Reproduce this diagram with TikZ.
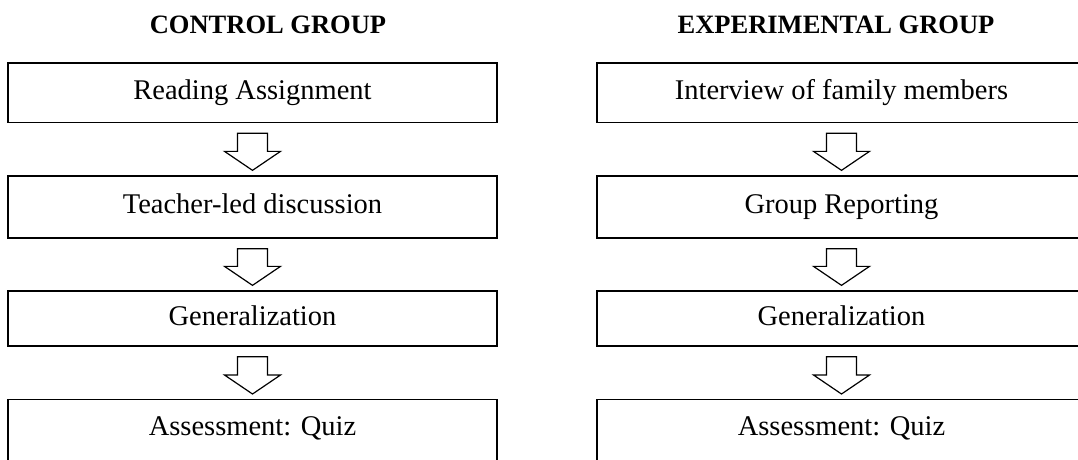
\documentclass[tikz,border=0pt]{standalone}
\usepackage{fontspec}
\setmainfont{Liberation Serif}
\usetikzlibrary{calc}
\newcommand{\blkarrow}[2]{%
  \draw[blk] let \p1=(#1.south), \p2=(#2.north) in
    (\x1-15pt,\y1-10pt) -- (\x1+15pt,\y1-10pt) -- (\x1+15pt,\y2+24pt) --
    (\x1+28pt,\y2+24pt) -- (\x1,\y2+5pt) -- (\x1-28pt,\y2+24pt) --
    (\x1-15pt,\y2+24pt) -- cycle;}
\begin{document}
\begin{tikzpicture}[x=1pt,y=-1pt,
  stepbox/.style={draw,line width=1.3pt,minimum width=489pt,inner xsep=0pt,inner ysep=5pt,
    font=\fontsize{28.5}{33}\selectfont,text height=19pt,text depth=6pt},
  lastbox/.style={stepbox,anchor=north,inner ysep=17.25pt,text depth=40pt},
  grouptitle/.style={font=\bfseries\fontsize{26.5}{31}\selectfont,anchor=base},
  blk/.style={draw,line width=1.2pt,fill=white,line join=miter}]
\useasboundingbox (0,0) rectangle (1078,459);
\clip (0,0) rectangle (1078,459);
\node[grouptitle] (t1) at (268,33) {CONTROL GROUP};
\node[grouptitle] (t2) at (836,33) {EXPERIMENTAL GROUP};
% control group
\node[stepbox,minimum height=59.5pt] (a1) at (252.5,92.75) {Reading Assignment};
\node[stepbox,minimum height=62pt] (a2) at (252.5,207) {Teacher-led discussion};
\node[stepbox,minimum height=55pt] (a3) at (252.5,318.5) {Generalization};
\node[lastbox] (a4) at (252.5,399) {Assessment: Quiz};
% experimental group
\node[stepbox,minimum height=59.5pt] (b1) at (841.5,92.75) {Interview of family members};
\node[stepbox,minimum height=62pt] (b2) at (841.5,207) {Group Reporting};
\node[stepbox,minimum height=55pt] (b3) at (841.5,318.5) {Generalization};
\node[lastbox] (b4) at (841.5,399) {Assessment: Quiz};
\blkarrow{a1}{a2}
\blkarrow{a2}{a3}
\blkarrow{a3}{a4}
\blkarrow{b1}{b2}
\blkarrow{b2}{b3}
\blkarrow{b3}{b4}
\end{tikzpicture}
\end{document}
